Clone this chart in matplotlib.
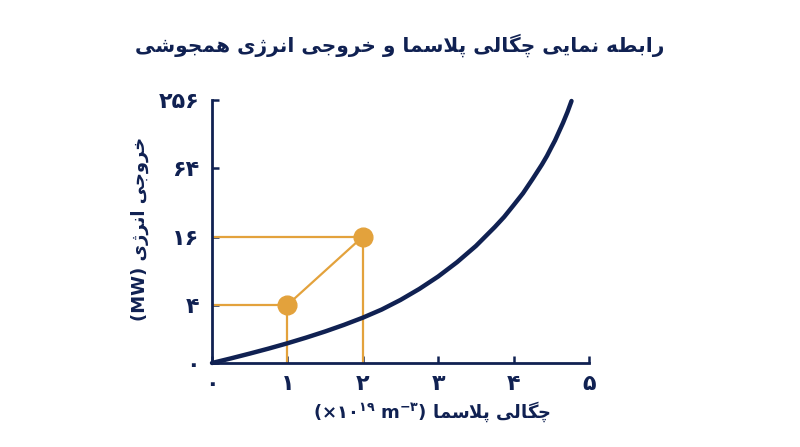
import matplotlib
matplotlib.use("Agg")
import matplotlib.pyplot as plt

# ---------------- data ----------------
density = [0, 0.25, 0.5, 0.75, 1.0, 1.25, 1.5, 1.75, 2.0, 2.25, 2.5, 2.75,
           3.0, 3.25, 3.5, 3.75, 3.875, 4.0, 4.125, 4.25, 4.375, 4.443, 4.5,
           4.549, 4.655, 4.715, 4.768]
power = [0, 0.317, 0.648, 0.993, 1.359, 1.752, 2.172, 2.628, 3.124, 3.683, 4.43, 5.54,
         7.13, 9.53, 13.24, 19.43, 23.9, 30.3, 38.6, 51.3, 69.0, 82.4, 97.6,
         112.5, 160.8, 200.9, 250.8]
marker_x = [1, 2]
marker_y = [4, 16]
x_ticks = [0, 1, 2, 3, 4, 5]
x_tick_labels = ["۰", "۱", "۲", "۳", "۴", "۵"]
y_ticks = [0, 4, 16, 64, 256]
y_tick_labels = ["۰", "۴", "۱۶", "۶۴", "۲۵۶"]
title_text = "رابطه نمایی چگالی پلاسما و خروجی انرژی همجوشی"
ylabel_fa = "خروجی انرژی"
ylabel_unit = "(MW)"
xlabel_fa = "چگالی پلاسما"
xlabel_unit = r"$\mathregular{(×۱۰^{۱۹}\ m^{-۳})}$"

NAVY = "#102152"
ORANGE = "#e3a23c"

# ------------- simple Persian shaping (presentation forms, visual order) -------------
FORMS = {
    'ا': ('\uFE8D', '\uFE8E'),
    'ب': ('\uFE8F', '\uFE90', '\uFE91', '\uFE92'),
    'پ': ('\uFB56', '\uFB57', '\uFB58', '\uFB59'),
    'ج': ('\uFE9D', '\uFE9E', '\uFE9F', '\uFEA0'),
    'چ': ('\uFB7A', '\uFB7B', '\uFB7C', '\uFB7D'),
    'خ': ('\uFEA5', '\uFEA6', '\uFEA7', '\uFEA8'),
    'ر': ('\uFEAD', '\uFEAE'),
    'ز': ('\uFEAF', '\uFEB0'),
    'ژ': ('\uFB8A', '\uFB8B'),
    'س': ('\uFEB1', '\uFEB2', '\uFEB3', '\uFEB4'),
    'ش': ('\uFEB5', '\uFEB6', '\uFEB7', '\uFEB8'),
    'ط': ('\uFEC1', '\uFEC2', '\uFEC3', '\uFEC4'),
    'گ': ('\uFB92', '\uFB93', '\uFB94', '\uFB95'),
    'ل': ('\uFEDD', '\uFEDE', '\uFEDF', '\uFEE0'),
    'م': ('\uFEE1', '\uFEE2', '\uFEE3', '\uFEE4'),
    'ن': ('\uFEE5', '\uFEE6', '\uFEE7', '\uFEE8'),
    'ه': ('\uFEE9', '\uFEEA', '\uFEEB', '\uFEEC'),
    'و': ('\uFEED', '\uFEEE'),
    'ی': ('\uFBFC', '\uFBFD', '\uFBFE', '\uFBFF'),
    'لا': ('\uFEFB', '\uFEFC'),
}


def shape(text):
    units = []
    i = 0
    while i < len(text):
        if text[i] == 'ل' and i + 1 < len(text) and text[i + 1] == 'ا':
            units.append('لا')
            i += 2
        else:
            units.append(text[i])
            i += 1
    out = []
    for k, u in enumerate(units):
        f = FORMS.get(u)
        if f is None:
            out.append(u)
            continue
        prev = units[k - 1] if k > 0 else None
        nxt = units[k + 1] if k + 1 < len(units) else None
        jp = prev in FORMS and len(FORMS[prev]) == 4
        jn = len(f) == 4 and nxt in FORMS
        if jp and jn:
            out.append(f[3])
        elif jp:
            out.append(f[1])
        elif jn:
            out.append(f[2])
        else:
            out.append(f[0])
    return ''.join(reversed(out))


plt.rcParams['font.family'] = ['DejaVu Sans']

fig = plt.figure(figsize=(8, 4.47), dpi=100)
ax = fig.add_axes([212 / 800, 1 - 363 / 447, (589 - 212) / 800, (363 - 100) / 447])

ax.set_yscale('symlog', base=4, linthresh=4, linscale=0.637)
ax.set_xlim(0, 5)
ax.set_ylim(0, 256)

# guide lines
glw = 1.6
ax.plot([0, marker_x[1]], [marker_y[1], marker_y[1]], color=ORANGE, lw=glw, zorder=2)
ax.plot([marker_x[1], marker_x[1]], [0, marker_y[1]], color=ORANGE, lw=glw, zorder=2)
ax.plot([0, marker_x[0]], [marker_y[0], marker_y[0]], color=ORANGE, lw=glw, zorder=2)
ax.plot([marker_x[0], marker_x[0]], [0, marker_y[0]], color=ORANGE, lw=glw, zorder=2)
ax.plot(marker_x, marker_y, color=ORANGE, lw=glw, zorder=2)

# curve
ax.plot(density, power, color=NAVY, lw=3.2, solid_capstyle='round',
        solid_joinstyle='round', zorder=3, clip_on=False)

# markers
ax.plot(marker_x, marker_y, 'o', color=ORANGE, markersize=13.5, zorder=4, clip_on=False)

for s in ['top', 'right']:
    ax.spines[s].set_visible(False)
for s in ['left', 'bottom']:
    ax.spines[s].set_color(NAVY)
    ax.spines[s].set_linewidth(2)

ax.set_xticks(x_ticks)
ax.set_xticklabels(x_tick_labels, fontsize=16, fontweight='bold', color=NAVY)
ax.set_yticks(y_ticks)
ax.set_yticklabels(y_tick_labels, fontsize=16, fontweight='bold', color=NAVY)
ax.yaxis.set_minor_locator(matplotlib.ticker.NullLocator())
ax.tick_params(axis='both', direction='in', color=NAVY, width=1.8, length=5)
ax.tick_params(axis='x', pad=8)
ax.tick_params(axis='y', pad=9)

fig.text(0.5, 1 - 45 / 447, shape(title_text), ha='center', va='center',
         fontsize=14.5, fontweight='bold', color=NAVY)
fig.text(140 / 800, 1 - 229 / 447, ylabel_unit + " " + shape(ylabel_fa), rotation=90,
         ha='center', va='center', fontsize=13, fontweight='bold', color=NAVY)
fig.text(432 / 800, 1 - 412 / 447, xlabel_unit + " " + shape(xlabel_fa),
         ha='center', va='center', fontsize=13, fontweight='bold', color=NAVY)

fig.savefig("out.png", dpi=100, facecolor='white')
